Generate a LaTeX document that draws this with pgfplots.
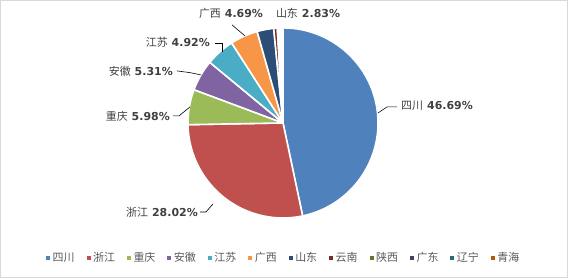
\documentclass[border=0pt]{standalone}
\usepackage{pgfplots}
\usepackage{pgfplotstable}
\pgfplotsset{compat=1.18}
\usepackage{fontspec}
\setmainfont{DejaVu Sans}
\newfontfamily\cjk{Noto Sans CJK SC}
\definecolor{c0}{HTML}{4F81BD}
\definecolor{c1}{HTML}{C0504D}
\definecolor{c2}{HTML}{9BBB59}
\definecolor{c3}{HTML}{8064A2}
\definecolor{c4}{HTML}{4BACC6}
\definecolor{c5}{HTML}{F79646}
\definecolor{c6}{HTML}{2C4D75}
\definecolor{c7}{HTML}{772C2A}
\definecolor{c8}{HTML}{5F7530}
\definecolor{c9}{HTML}{4D3B62}
\definecolor{c10}{HTML}{276A7C}
\definecolor{c11}{HTML}{B65708}
\definecolor{txt}{HTML}{404040}
\definecolor{legtxt}{HTML}{595959}
\pgfplotstableread{
idx value
0 46.69
1 28.02
2 5.98
3 5.31
4 4.92
5 4.69
6 2.83
7 0.60
8 0.30
9 0.25
10 0.22
11 0.19
}\piedata
\newcommand\computeangles{%
  \gdef\cum{0}%
  \foreach \i in {0,...,11}{%
    \pgfplotstablegetelem{\i}{value}\of\piedata
    \pgfmathsetmacro\a{90-3.6*\cum}%
    \pgfmathsetmacro\newcum{\cum+\pgfplotsretval}%
    \pgfmathsetmacro\b{90-3.6*\newcum}%
    \expandafter\xdef\csname sa\i\endcsname{\a}%
    \expandafter\xdef\csname ea\i\endcsname{\b}%
    \xdef\cum{\newcum}%
  }}
\computeangles
\newcommand\lab[2]{{\fontsize{11}{13}\cjk #1}\hspace{4bp}{\fontsize{11}{13}\selectfont\bfseries #2}}
\begin{document}
\begin{tikzpicture}
\begin{axis}[
  x=1bp, y=1bp,
  xmin=0, xmax=568, ymin=0, ymax=278,
  hide axis,
  clip=false,
  legend columns=12,
  legend style={at={(axis cs:284,20)}, anchor=center, draw=none, fill=none,
    font=\fontsize{11}{12}\cjk\color{legtxt},
    nodes={inner xsep=2.5bp},
    /tikz/every even column/.append style={column sep=9.5bp}},
  legend image code/.code={\fill[#1, draw=none] (0bp,-2bp) rectangle (4bp,2bp);},
]
\draw[black!15, line width=0.8pt] (axis cs:0.5,0.5) rectangle (axis cs:567.5,277.5);
\pgfplotsinvokeforeach{0,...,11}{
  \filldraw[fill=c#1, draw=white, line width=1.6pt, line join=round]
    (axis cs:283,155) -- ++({\csname sa#1\endcsname}:95bp)
    arc[start angle=\csname sa#1\endcsname, end angle=\csname ea#1\endcsname, radius=95bp] -- cycle;
}
\addlegendimage{fill=c0}\addlegendentry{四川}
\addlegendimage{fill=c1}\addlegendentry{浙江}
\addlegendimage{fill=c2}\addlegendentry{重庆}
\addlegendimage{fill=c3}\addlegendentry{安徽}
\addlegendimage{fill=c4}\addlegendentry{江苏}
\addlegendimage{fill=c5}\addlegendentry{广西}
\addlegendimage{fill=c6}\addlegendentry{山东}
\addlegendimage{fill=c7}\addlegendentry{云南}
\addlegendimage{fill=c8}\addlegendentry{陕西}
\addlegendimage{fill=c9}\addlegendentry{广东}
\addlegendimage{fill=c10}\addlegendentry{辽宁}
\addlegendimage{fill=c11}\addlegendentry{青海}
% leader lines
\draw[black, line width=0.6pt] (axis cs:378,165) -- (axis cs:387,171) -- (axis cs:397,171);
\draw[black, line width=0.6pt] (axis cs:200,66) -- (axis cs:206,66) -- (axis cs:213,74);
\draw[black, line width=0.6pt] (axis cs:173,162) -- (axis cs:179,162) -- (axis cs:190,171);
\draw[black, line width=0.6pt] (axis cs:177,207) -- (axis cs:190,205.3) -- (axis cs:201,203);
\draw[black, line width=0.6pt] (axis cs:215,235) -- (axis cs:222,235) -- (axis cs:222,226);
\draw[black, line width=0.6pt] (axis cs:232,253) -- (axis cs:245,242);
% labels
\node[anchor=west, text=txt, inner sep=0] at (axis cs:401,172) {\lab{四川}{46.69\%}};
\node[anchor=east, text=txt, inner sep=0] at (axis cs:198,66) {\lab{浙江}{28.02\%}};
\node[anchor=east, text=txt, inner sep=0] at (axis cs:170,162) {\lab{重庆}{5.98\%}};
\node[anchor=east, text=txt, inner sep=0] at (axis cs:173,207) {\lab{安徽}{5.31\%}};
\node[anchor=east, text=txt, inner sep=0] at (axis cs:210,236) {\lab{江苏}{4.92\%}};
\node[anchor=center, text=txt, inner sep=0] at (axis cs:231,265) {\lab{广西}{4.69\%}};
\node[anchor=center, text=txt, inner sep=0] at (axis cs:308,265) {\lab{山东}{2.83\%}};
\end{axis}
\end{tikzpicture}
\end{document}
